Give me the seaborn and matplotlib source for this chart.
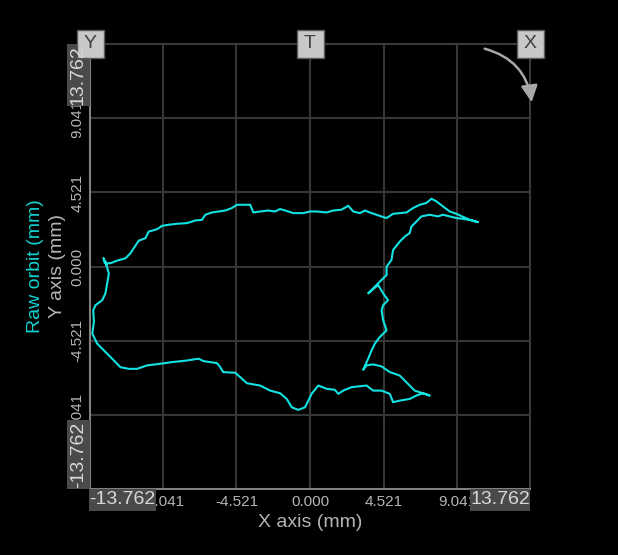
import matplotlib
matplotlib.use("Agg")
import numpy as np
import pandas as pd
import matplotlib.pyplot as plt
from matplotlib.patches import Rectangle, FancyArrowPatch
import seaborn as sns

orbit_x = [10.33, 9.82, 9.00, 8.59, 8.18, 7.77, 7.47, 7.16, 6.75, 6.34, 5.93, 5.52, 5.11, 4.71, 4.50,
           4.09, 3.68, 3.37, 3.07, 2.66, 2.35, 1.94, 1.43, 1.02, 0.41, 0.00, -0.41, -1.02, -1.53, -1.84,
           -2.15, -2.56, -3.07, -3.48, -3.68, -3.99, -4.50, -4.80, -5.21, -5.63, -6.03, -6.44, -6.64,
           -7.06, -7.56, -8.18, -8.69, -9.10, -9.40, -9.92, -10.12, -10.53, -10.84, -11.04, -11.35,
           -11.86, -12.27, -12.62, -12.70, -12.52, -12.58,
           -12.37, -12.47, -12.58, -12.78, -13.19, -13.33, -13.29, -13.39, -13.09, -12.68, -12.17,
           -11.66, -11.15, -10.63, -10.02, -9.20, -8.48, -7.56, -6.85, -6.55, -5.72, -5.52, -5.34,
           -4.60, -4.29, -3.88, -3.07, -2.45, -1.84, -1.43, -1.12, -0.72, -0.31, -0.10, 0.10, 0.51,
           1.02, 1.53, 1.74, 2.04, 2.56, 3.48, 3.88, 4.40, 4.91, 5.11, 5.52, 6.13, 6.55, 6.95, 7.36,
           6.44, 5.93, 5.52, 4.91, 4.40, 3.88, 3.48, 3.27,
           3.58, 3.79, 3.99, 4.29, 4.71, 4.50, 4.40, 4.50, 4.80, 4.50, 4.19, 3.58, 4.29, 4.71, 4.71,
           5.01, 5.11, 5.52, 5.83, 6.13, 6.24, 6.55, 6.85, 7.36, 7.87, 8.18, 9.00, 9.82, 10.33]
orbit_y = [2.71, 2.85, 3.22, 3.36, 3.67, 3.98, 4.14, 3.88, 3.77, 3.57, 3.30, 3.26, 3.22, 2.96, 3.02,
           3.16, 3.30, 3.42, 3.26, 3.36, 3.71, 3.47, 3.42, 3.30, 3.36, 3.36, 3.26, 3.26, 3.42, 3.51,
           3.36, 3.42, 3.36, 3.30, 3.77, 3.77, 3.77, 3.57, 3.42, 3.36, 3.30, 3.16, 2.85,
           2.81, 2.65, 2.61, 2.55, 2.48, 2.28, 2.13, 1.73, 1.58, 1.12, 0.81, 0.50,
           0.36, 0.20, 0.20, 0.52, 0.09, 0.29,
           -0.42, -1.03, -1.64, -2.06, -2.36, -2.67, -3.39, -4.10, -4.71, -5.12, -5.63,
           -6.15, -6.25, -6.25, -6.04, -5.94, -5.84, -5.74, -5.63, -5.78, -5.90, -6.15, -6.45,
           -6.49, -6.76, -7.13, -7.27, -7.58, -7.74, -8.09, -8.60, -8.76, -8.60, -8.19, -7.78, -7.27,
           -7.47, -7.53, -7.78, -7.58, -7.37, -7.27, -7.58, -7.58, -7.78, -8.29, -8.19, -8.09, -7.88, -7.74, -7.88,
           -7.58, -7.07, -6.66, -6.45, -6.10, -5.98, -6.04, -6.31,
           -5.63, -5.12, -4.71, -4.31, -3.90, -3.28, -2.67, -2.36, -2.06, -1.64, -1.13, -1.64, -0.93, -0.52, -0.01,
           0.40, 1.01, 1.52, 1.83, 2.04, 2.44, 2.75, 3.06, 3.16, 3.06, 3.16, 2.96, 2.85, 2.71]

tick_vals = [-9.041, -4.521, 0.0, 4.521, 9.041]
tick_labels = ["-9.041", "-4.521", "0.000", "4.521", "9.041"]
edge_label = "13.762"
corner_tags = ["Y", "T", "X"]

W, H = 618, 555


def px(x, y):
    # screen pixel -> figure fraction
    return x / W, 1 - y / H


sns.set_theme(style="dark", rc={"axes.facecolor": "black", "figure.facecolor": "black"})
plt.rcParams['font.family'] = ['Liberation Sans', 'DejaVu Sans']

fig = plt.figure(figsize=(W / 100, H / 100), dpi=100)
fig.patch.set_facecolor("black")
ax = fig.add_axes([90 / W, 1 - 489 / H, 440 / W, 445 / H])
ax.set_facecolor("black")

df = pd.DataFrame({"x": orbit_x, "y": orbit_y})
sns.lineplot(data=df, x="x", y="y", sort=False, estimator=None, color="#12e2e2", lw=1.5, ax=ax)

ax.set_xlim(-13.53, 13.53)
ax.set_ylim(-13.59, 13.59)
ax.set_xticks(tick_vals)
ax.set_xticklabels(tick_labels)
ax.set_yticks(tick_vals)
ax.set_yticklabels(tick_labels, rotation=90, va="center")
ax.tick_params(length=0, colors="#b4b4b4", labelsize=11, pad=4)
ax.grid(True, color="#363636", lw=1.5)
for side in ["top", "right"]:
    ax.spines[side].set_color("#3a3a3a")
for side in ["left", "bottom"]:
    ax.spines[side].set_color("#808080")
for s in ax.spines.values():
    s.set_linewidth(1.5)

ax.set_xlabel("X axis (mm)", color="#b4b4b4", fontsize=14)
ax.xaxis.set_label_coords(0.5, -0.076)
ax.xaxis.label.set_va("center")
ax.set_ylabel("Y axis (mm)", color="#b4b4b4", fontsize=14)
ax.yaxis.set_label_coords(-0.073, 0.5)
ax.yaxis.label.set_va("center")
ax.text(-0.123, 0.5, "Raw orbit (mm)", transform=ax.transAxes, rotation=90,
        ha="center", va="center", color="#12d0d0", fontsize=14)

# range boxes at the axis ends
box_kw = dict(facecolor="#4a4a4a", edgecolor="none", zorder=5)
txt_kw = dict(color="#d8d8d8", fontsize=14, ha="center", va="center", zorder=6)
for (x0, y0, w, h, lab, rot) in [(89, 489, 67, 22, "-" + edge_label, 0),
                                 (470, 489, 60, 22, edge_label, 0),
                                 (67, 44, 23, 62, edge_label, 90),
                                 (67, 420, 23, 69, "-" + edge_label, 90)]:
    fx, fy = px(x0, y0 + h)
    fig.add_artist(Rectangle((fx, fy), w / W, h / H, transform=fig.transFigure, **box_kw))
    cx, cy = px(x0 + w / 2, y0 + h / 2)
    fig.text(cx, cy, lab, rotation=rot, **txt_kw)

# Y / T / X tags along the top edge
for tag, xc in zip(corner_tags, [90, 310, 530]):
    fx, fy = px(xc - 13.5, 58)
    fig.add_artist(Rectangle((fx, fy), 27 / W, 28 / H, transform=fig.transFigure,
                             facecolor="#c8c8c8", edgecolor="#5a5a5a", lw=1, zorder=5))
    cx, cy = px(xc, 44)
    fig.text(cx, cy, tag, color="#404040", fontsize=14, ha="center", va="center", zorder=6)

arrow = FancyArrowPatch(px(482, 48), px(532, 105), transform=fig.transFigure,
                        connectionstyle="arc3,rad=-0.35", arrowstyle="-|>,head_length=10,head_width=5",
                        color="#a8a8a8", lw=1.8, zorder=5)
fig.add_artist(arrow)

fig.savefig("out.png", dpi=100, facecolor="black")
